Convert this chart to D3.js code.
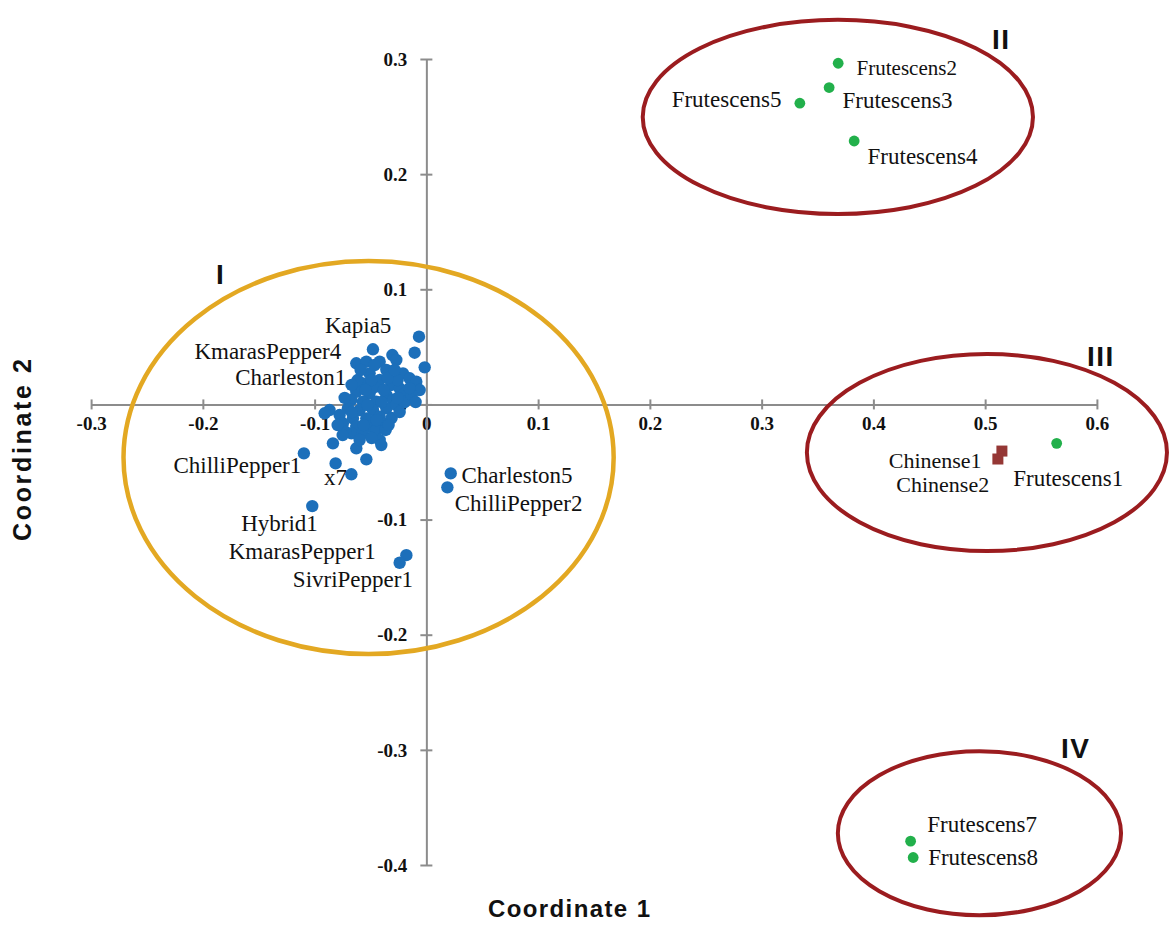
<!DOCTYPE html>
<html><head><meta charset="utf-8">
<script src="https://cdn.jsdelivr.net/npm/d3@7"></script>
<style>
html,body{margin:0;padding:0;background:#fff;}
svg{display:block;}
</style></head>
<body><svg id="chart" width="1170" height="926"></svg>
<script>
// ---------- data ----------
const xTicks = [-0.3,-0.2,-0.1,0,0.1,0.2,0.3,0.4,0.5,0.6];
const xTickLabels = ["-0.3","-0.2","-0.1","0","0.1","0.2","0.3","0.4","0.5","0.6"];
const yTicks = [-0.4,-0.3,-0.2,-0.1,0,0.1,0.2,0.3];
const yTickLabels = ["-0.4","-0.3","-0.2","-0.1","0","0.1","0.2","0.3"];

// Annuum group (blue) – coordinate 1 / coordinate 2
const annuumX = [-0.0066,-0.0478,-0.0105,-0.0304,-0.0627,-0.0537,-0.0418,-0.0269,-0.0015,-0.0358,
 -0.0508,-0.0209,-0.0150,-0.0090,-0.0568,-0.0418,-0.0313,-0.0239,-0.0060,-0.0627,
 -0.0508,-0.0358,-0.0194,-0.0671,-0.0568,-0.0448,-0.0299,-0.0702,-0.0597,-0.0478,
 -0.0358,-0.0269,-0.0866,-0.0910,-0.0776,-0.0657,-0.0537,-0.0418,-0.0747,-0.0627,
 -0.0508,-0.0389,-0.0671,-0.0568,-0.0448,-0.0418,-0.0403,-0.0836,-0.0627,-0.0812,
 -0.0671,-0.0537,-0.1096,-0.1021,0.0218,0.0188,-0.0179,-0.0239,-0.0463,-0.0311,
 -0.0526,-0.0194,-0.0132,-0.0615,-0.0364,-0.0257,-0.0722,
 -0.0588,-0.0463,-0.0346,-0.0490,-0.0284,-0.0150,-0.0257,-0.0400,-0.0543,-0.0668,
 -0.0731,-0.0561,-0.0445,-0.0338,-0.0490,-0.0597,-0.0749,-0.0239,-0.0096,-0.0794,
 -0.0382,-0.0669];
const annuumY = [0.0588,0.0479,0.0449,0.0429,0.0357,0.0371,0.0371,0.0386,0.0322,0.0299,
 0.0270,0.0270,0.0227,0.0197,0.0183,0.0212,0.0169,0.0140,0.0125,0.0110,
 0.0096,0.0082,0.0096,0.0038,0.0023,0.0023,0.0038,-0.0034,-0.0049,-0.0049,
 -0.0034,-0.0005,-0.0049,-0.0077,-0.0092,-0.0121,-0.0121,-0.0107,-0.0164,-0.0194,
 -0.0194,-0.0164,-0.0251,-0.0251,-0.0222,-0.0309,-0.0353,-0.0338,-0.0381,-0.0512,
 -0.0607,-0.0477,-0.0425,-0.0883,-0.0599,-0.0720,-0.1309,-0.1375,0.0151,-0.0118,
 -0.0005,0.0021,0.0082,0.0212,-0.0222,0.0212,-0.0240,
 0.0299,0.0342,0.0229,0.0212,0.0299,0.0142,0.0056,0.0021,0.0125,-0.0066,
 0.0056,-0.0179,-0.0136,-0.0179,-0.0292,-0.0309,-0.0266,-0.0066,0.0021,-0.0179,
 0.0125,0.0169];

// Frutescens group (green)
const frutNames = ["Frutescens1","Frutescens2","Frutescens3","Frutescens4","Frutescens5","Frutescens7","Frutescens8"];
const frutX = [0.5640,0.3685,0.3604,0.3828,0.3342,0.4333,0.4356];
const frutY = [-0.0338,0.2963,0.2752,0.2288,0.2616,-0.3793,-0.3935];

// Chinense group (dark red squares)
const chinNames = ["Chinense1","Chinense2"];
const chinX = [0.5150,0.5114];
const chinY = [-0.0405,-0.0474];

// Labels for annuum points: [text, index into annuum arrays]
const annuumLabels = ["Kapia5","KmarasPepper4","Charleston1","ChilliPepper1","x7","Hybrid1","KmarasPepper1","SivriPepper1","Charleston5","ChilliPepper2"];
const annuumLabelIdx = [1,4,19,52,50,53,56,57,54,55];

// Group ellipses (cluster numerals)
const groupNames = ["I","II","III","IV"];
const groupCX = [-0.0517,0.3682,0.5016,0.4949];
const groupCY = [-0.0461,0.2497,-0.0418,-0.3724];
const groupRX = [0.2193,0.1746,0.1611,0.1267];
const groupRY = [0.1707,0.0843,0.0856,0.0712];

// ---------- layout ----------
const svg = d3.select("#chart");
svg.append("rect").attr("width",1170).attr("height",926).attr("fill","#fff");
const x = d3.scaleLinear().domain([-0.3,0.6]).range([91.1,1096.9]);
const y = d3.scaleLinear().domain([-0.4,0.3]).range([865,59]);

const axisColor = "#8c8c8c";
const tickFont = "'Liberation Serif','Times New Roman',serif";

// x axis through y=0
const gx = svg.append("g").attr("transform",`translate(0,${y(0)})`)
  .call(d3.axisBottom(x).tickValues(xTicks).tickSize(0).tickFormat((d,i)=>xTickLabels[i]));
gx.select(".domain").attr("stroke",axisColor).attr("stroke-width",2);
gx.selectAll(".tick line").attr("y1",-5).attr("y2",5).attr("stroke",axisColor).attr("stroke-width",2);
gx.selectAll(".tick text").attr("y",26).attr("dy",0).attr("fill","#111")
  .style("font-family",tickFont).style("font-weight","bold").style("font-size","19px");

// y axis through x=0
const gy = svg.append("g").attr("transform",`translate(${x(0)},0)`)
  .call(d3.axisLeft(y).tickValues(yTicks).tickSize(0).tickFormat((d,i)=>yTickLabels[i]));
gy.select(".domain").attr("stroke",axisColor).attr("stroke-width",2);
gy.selectAll(".tick line").attr("x1",-6).attr("x2",6).attr("stroke",axisColor).attr("stroke-width",2);
gy.selectAll(".tick text").attr("x",-19).attr("dy","0.33em").attr("fill","#111")
  .style("font-family",tickFont).style("font-weight","bold").style("font-size","19px");

// ellipses
const ellColors = ["#e3a822","#9b1c1f","#9b1c1f","#9b1c1f"];
svg.append("g").selectAll("ellipse").data(groupNames).join("ellipse")
  .attr("cx",(d,i)=>x(groupCX[i])).attr("cy",(d,i)=>y(groupCY[i]))
  .attr("rx",(d,i)=>x(groupRX[i])-x(0)).attr("ry",(d,i)=>y(0)-y(groupRY[i]))
  .attr("fill","none").attr("stroke",(d,i)=>ellColors[i]).attr("stroke-width",(d,i)=>i===0?4.5:4);

// group numerals
const numPos = [[216,284],[992,49],[1087,366],[1061,758]];
svg.append("g").selectAll("text").data(groupNames).join("text")
  .attr("x",(d,i)=>numPos[i][0]).attr("y",(d,i)=>numPos[i][1])
  .text(d=>d).attr("fill","#111")
  .style("font-family","'Liberation Sans',Arial,sans-serif").style("font-weight","bold")
  .style("font-size","28px").style("letter-spacing","1.5px");

// points
const blue = "#1c6fba", green = "#22b04b", brown = "#953735";
svg.append("g").selectAll("circle").data(annuumX).join("circle")
  .attr("cx",(d)=>x(d)).attr("cy",(d,i)=>y(annuumY[i])).attr("r",6.2).attr("fill",blue);
svg.append("g").selectAll("circle").data(frutX).join("circle")
  .attr("cx",(d)=>x(d)).attr("cy",(d,i)=>y(frutY[i])).attr("r",5.4).attr("fill",green);
svg.append("g").selectAll("rect").data(chinX).join("rect")
  .attr("x",(d)=>x(d)-5.5).attr("y",(d,i)=>y(chinY[i])-5.5).attr("width",11).attr("height",11).attr("fill",brown);

// point labels
const labFont = "'Liberation Serif','Times New Roman',serif";
// offsets in pixels from the marker: [dx, dy, anchor]
const annLabOff = [[-48,-16,"start"],[-15,-4,"end"],[-10,-6.7,"end"],[-2.6,19.4,"end"],[-4.4,10.7,"end"],
  [5.6,25,"end"],[-30.7,4.3,"end"],[13.3,24.6,"end"],[10.7,9.4,"start"],[7.3,23.7,"start"]];
const gl = svg.append("g").style("font-family",labFont).attr("fill","#111");
annuumLabels.forEach((t,k)=>{
  const i = annuumLabelIdx[k], o = annLabOff[k];
  gl.append("text").attr("x",x(annuumX[i])+o[0]).attr("y",y(annuumY[i])+o[1])
    .attr("text-anchor",o[2]).style("font-size","23px").text(t);
});
const frutLabOff = [[-43.4,42.7,"start"],[18.4,11.7,"start"],[13.4,20,"start"],[13.4,23.3,"start"],
  [-18.3,4,"end"],[16.6,-9.3,"start"],[15,7.7,"start"]];
frutNames.forEach((t,i)=>{
  const o = frutLabOff[i];
  gl.append("text").attr("x",x(frutX[i])+o[0]).attr("y",y(frutY[i])+o[1])
    .attr("text-anchor",o[2]).style("font-size",t==="Frutescens2"?"21px":"23px").text(t);
});
const chinLabOff = [[-20.3,17.4,"end"],[-8.7,32.7,"end"]];
chinNames.forEach((t,i)=>{
  const o = chinLabOff[i];
  gl.append("text").attr("x",x(chinX[i])+o[0]).attr("y",y(chinY[i])+o[1])
    .attr("text-anchor",o[2]).style("font-size","22px").text(t);
});

// axis titles
const titleFont = "'Liberation Sans',Arial,sans-serif";
svg.append("text").attr("x",569).attr("y",917).attr("text-anchor","middle")
  .attr("textLength",162).attr("lengthAdjust","spacing")
  .style("font-family",titleFont).style("font-weight","bold").style("font-size","24px")
  .attr("fill","#111").text("Coordinate 1");
svg.append("text").attr("transform","translate(31,450) rotate(-90)").attr("text-anchor","middle")
  .attr("textLength",182).attr("lengthAdjust","spacing")
  .style("font-family",titleFont).style("font-weight","bold").style("font-size","25px")
  .attr("fill","#111").text("Coordinate 2");
</script></body></html>
